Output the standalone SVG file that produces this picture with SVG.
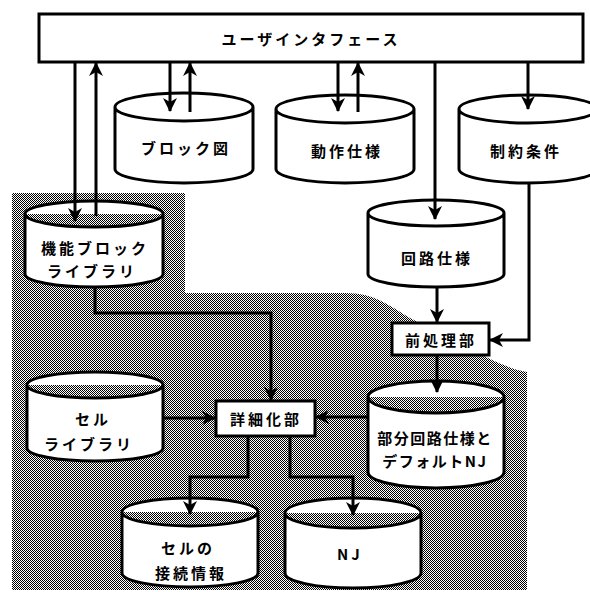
<svg xmlns="http://www.w3.org/2000/svg" width="590" height="592" viewBox="0 0 590 592">
<defs>
<pattern id="dither" patternUnits="userSpaceOnUse" width="2" height="2">
<rect x="0" y="0" width="2" height="2" fill="#ffffff"/>
<rect x="0" y="0" width="1" height="1" fill="#000000"/>
<rect x="1" y="1" width="1" height="1" fill="#000000"/>
</pattern>
<marker id="arr" markerUnits="userSpaceOnUse" viewBox="0 0 14 14" markerWidth="14" markerHeight="14" refX="13" refY="7" orient="auto">
<path d="M0,0 L14,7 L0,14 L4,7 Z" fill="#000"/>
</marker>
<style>
.sh{fill:#fff;stroke:#000;stroke-width:3}
.ln{fill:none;stroke:#000;stroke-width:3;marker-end:url(#arr)}
.t{font-family:"Noto Sans CJK JP","Noto Sans",sans-serif;font-weight:bold;font-size:15px;fill:#000;text-anchor:middle;dominant-baseline:central;letter-spacing:3px}
.t2{letter-spacing:1.5px}
</style>
</defs>
<rect width="590" height="592" fill="#fff"/>
<path d="M12,193 H185 V293 H345 C375,293 388,305 410,318 L488,358 C505,366 515,370 527,372 V590 H12 Z" fill="url(#dither)"/>

<g id="ui">
<rect x="39" y="14" width="544" height="48" class="sh"/>
<text class="t" x="311" y="38">ユーザインタフェース</text>
</g>

<g id="blockzu">
<path class="sh" d="M115,107 A69,14 0 0 1 253,107 V169 A69,14 0 0 1 115,169 Z M115,107 A69,14 0 0 0 253,107"/>
<text class="t" x="186" y="147">ブロック図</text>
</g>

<g id="dousa">
<path class="sh" d="M276,109 A69,14 0 0 1 414,109 V169 A69,14 0 0 1 276,169 Z M276,109 A69,14 0 0 0 414,109"/>
<text class="t" x="347" y="150">動作仕様</text>
</g>

<g id="seiyaku">
<path class="sh" d="M459,109 A69,14 0 0 1 597,109 V169 A69,14 0 0 1 459,169 Z M459,109 A69,14 0 0 0 597,109"/>
<text class="t" x="526" y="150">制約条件</text>
</g>

<g id="kinou">
<path class="sh" d="M25,214 A69,13 0 0 1 163,214 V274 A69,13 0 0 1 25,274 Z M25,214 A69,13 0 0 0 163,214"/>
<text class="t" x="95" y="247">機能ブロック</text>
<text class="t" x="92" y="270">ライブラリ</text>
</g>

<g id="kairo">
<path class="sh" d="M368,213 A68,13 0 0 1 504,213 V274 A68,13 0 0 1 368,274 Z M368,213 A68,13 0 0 0 504,213"/>
<text class="t" x="437" y="257">回路仕様</text>
</g>

<g id="zenshori">
<rect x="392" y="323" width="97" height="32" class="sh"/>
<text class="t" x="441" y="339">前処理部</text>
</g>

<g id="bubun">
<path class="sh" d="M368,397 A68,16 0 0 1 504,397 V472 A68,16 0 0 1 368,472 Z M368,397 A68,16 0 0 0 504,397"/>
<text class="t t2" x="435" y="437">部分回路仕様と</text>
<text class="t t2" x="435" y="460">デフォルトNJ</text>
</g>

<g id="shousai">
<rect x="216" y="401" width="99" height="35" class="sh"/>
<text class="t" x="266" y="418">詳細化部</text>
</g>

<g id="cell">
<path class="sh" d="M27,385 A68,13 0 0 1 163,385 V448 A68,13 0 0 1 27,448 Z M27,385 A68,13 0 0 0 163,385"/>
<text class="t" x="93" y="418">セル</text>
<text class="t" x="89" y="443">ライブラリ</text>
</g>

<g id="setsuzoku">
<path class="sh" d="M122,512 A68,14 0 0 1 258,512 V573 A68,14 0 0 1 122,573 Z M122,512 A68,14 0 0 0 258,512"/>
<text class="t" x="188" y="547">セルの</text>
<text class="t" x="191" y="572">接続情報</text>
</g>

<g id="nj">
<path class="sh" d="M285,513 A68,15 0 0 1 421,513 V573 A68,15 0 0 1 285,573 Z M285,513 A68,15 0 0 0 421,513"/>
<text class="t" x="350" y="553">NJ</text>
</g>

<g id="connectors">
<path class="ln" d="M75,62 V221"/>
<path class="ln" d="M96,216 V63"/>
<path class="ln" d="M170,62 V111"/>
<path class="ln" d="M190,112 V63"/>
<path class="ln" d="M338,62 V111"/>
<path class="ln" d="M358,112 V63"/>
<path class="ln" d="M528,62 V109"/>
<path class="ln" d="M435,62 V219"/>
<path class="ln" d="M529,183 V340 H490"/>
<path class="ln" d="M437,287 V322"/>
<path class="ln" d="M437,355 V392"/>
<path class="ln" d="M368,417 H316"/>
<path class="ln" d="M95,287 V313 H271 V400"/>
<path class="ln" d="M163,418 H215"/>
<path class="ln" d="M248,436 V477 H190 V514"/>
<path class="ln" d="M290,436 V477 H353 V515"/>
</g>
</svg>
